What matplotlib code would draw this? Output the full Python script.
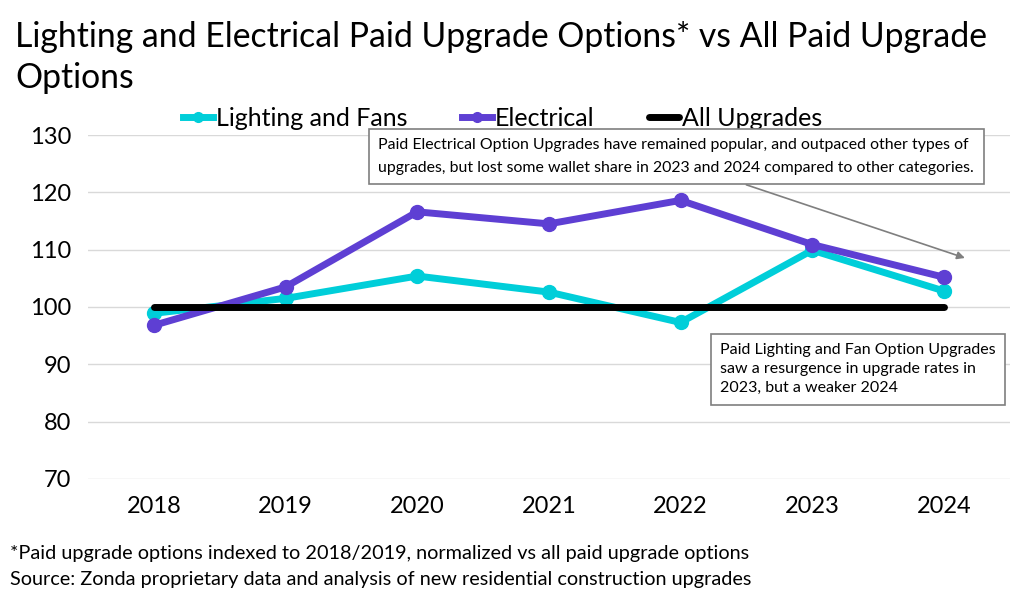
import matplotlib.pyplot as plt

plt.rcParams['font.family'] = ['Lato', 'DejaVu Sans']

years = ['2018', '2019', '2020', '2021', '2022', '2023', '2024']
lighting = [98.9, 101.5, 105.4, 102.6, 97.3, 109.9, 102.8]
electrical = [96.8, 103.5, 116.6, 114.5, 118.6, 110.9, 105.2]
all_upgrades = [100, 100, 100, 100, 100, 100, 100]

fig = plt.figure(figsize=(10.24, 6.06), dpi=100)
ax = fig.add_axes([0.086, 0.2096, 0.90, 0.5676])

x = range(len(years))
ax.plot(x, lighting, color='#00CED9', lw=5, marker='o', ms=10, label='Lighting and Fans', zorder=3)
ax.plot(x, electrical, color='#5E3FD3', lw=5, marker='o', ms=10, label='Electrical', zorder=4)
ax.plot(x, all_upgrades, color='black', lw=5, solid_capstyle='round', label='All Upgrades', zorder=5)

ax.set_xlim(-0.5, 6.5)
ax.set_ylim(70, 130)
ax.set_yticks(range(70, 131, 10))
ax.set_xticks(list(x))
ax.set_xticklabels(years)
ax.tick_params(length=0, labelsize=17, pad=12)
ax.grid(axis='y', color='#d9d9d9', lw=1)
ax.set_axisbelow(True)
for s in ax.spines.values():
    s.set_visible(False)

fig.text(0.015, 0.965, 'Lighting and Electrical Paid Upgrade Options* vs All Paid Upgrade\nOptions',
         fontsize=24.3, va='top', ha='left', linespacing=1.32)

leg = ax.legend(loc='lower center', bbox_to_anchor=(0.45, 0.985), ncol=3, frameon=False,
                fontsize=18, handlelength=1.2, handletextpad=0.1, columnspacing=2.2,
                borderaxespad=0, markerscale=0.7)

ax.annotate('Paid Electrical Option Upgrades have remained popular, and outpaced other types of\n'
            'upgrades, but lost some wallet share in 2023 and 2024 compared to other categories.',
            xy=(6.16, 108.55), xytext=(0.315, 0.99), textcoords='axes fraction',
            fontsize=11.4, va='top', ha='left', linespacing=1.75,
            bbox=dict(boxstyle='square,pad=0.6', fc='white', ec='#7f7f7f', lw=1.2),
            arrowprops=dict(arrowstyle='-|>', color='#7f7f7f', lw=1.2,
                            relpos=(0.567, 0.0), shrinkA=0, shrinkB=0),
            zorder=6)

ax.text(0.686, 0.395, 'Paid Lighting and Fan Option Upgrades\nsaw a resurgence in upgrade rates in\n2023, but a weaker 2024',
        transform=ax.transAxes, fontsize=11.5, va='top', ha='left', linespacing=1.45,
        bbox=dict(boxstyle='square,pad=0.6', fc='white', ec='#7f7f7f', lw=1.2), zorder=6)

fig.text(0.01, 0.087, '*Paid upgrade options indexed to 2018/2019, normalized vs all paid upgrade options',
         fontsize=14.3, ha='left', va='center')
fig.text(0.01, 0.043, 'Source: Zonda proprietary data and analysis of new residential construction upgrades',
         fontsize=14.3, ha='left', va='center')

fig.savefig('out.png', dpi=100)
